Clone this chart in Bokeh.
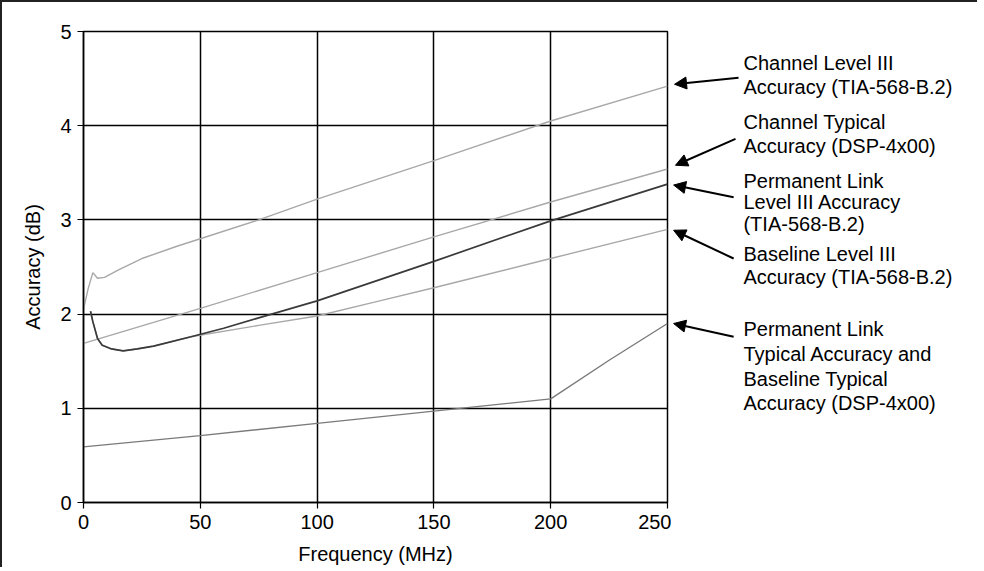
from bokeh.plotting import figure
from bokeh.layouts import row
from bokeh.models import Arrow, NormalHead, Label, FixedTicker, Range1d
from bokeh.embed import file_html
from bokeh.resources import INLINE

# ---- data ----
cl3_x = [0, 2, 4, 6, 9, 15, 25, 40, 50, 75, 100, 150, 200, 250]
cl3_y = [2.05, 2.27, 2.44, 2.38, 2.39, 2.47, 2.59, 2.72, 2.80, 3.00, 3.22, 3.63, 4.05, 4.42]

ct_x = [0, 50, 100, 150, 200, 250]
ct_y = [1.69, 2.06, 2.44, 2.82, 3.19, 3.54]

pl3_x = [3, 4, 6, 8, 12, 17, 23, 30, 46, 60, 75, 100, 150, 200, 250]
pl3_y = [2.03, 1.92, 1.74, 1.67, 1.63, 1.61, 1.63, 1.66, 1.76, 1.85, 1.96, 2.14, 2.56, 2.99, 3.38]

bl3_x = [3, 4, 6, 8, 12, 17, 23, 30, 46, 75, 100, 125, 150, 200, 250]
bl3_y = [2.03, 1.92, 1.74, 1.67, 1.63, 1.61, 1.63, 1.66, 1.76, 1.88, 1.98, 2.13, 2.28, 2.59, 2.90]

pt_x = [0, 50, 100, 150, 200, 225, 250]
pt_y = [0.59, 0.71, 0.84, 0.97, 1.10, 1.51, 1.90]

x_ticks = [0, 50, 100, 150, 200, 250]
y_ticks = [0, 1, 2, 3, 4, 5]

label_lines = [
    "Channel Level III", "Accuracy (TIA-568-B.2)",
    "Channel Typical", "Accuracy (DSP-4x00)",
    "Permanent Link", "Level III Accuracy", "(TIA-568-B.2)",
    "Baseline Level III", "Accuracy (TIA-568-B.2)",
    "Permanent Link", "Typical Accuracy and", "Baseline Typical", "Accuracy (DSP-4x00)",
]

# ---- annotation layout ----
label_x = 282.5
label_y = [4.67, 4.41, 4.04, 3.78, 3.41, 3.19, 2.96, 2.64, 2.39, 1.84, 1.58, 1.31, 1.06]
arrows = [
    (280.4, 4.51, 253.0, 4.44),
    (279.1, 3.86, 253.4, 3.58),
    (278.3, 3.24, 252.6, 3.37),
    (278.3, 2.59, 252.6, 2.89),
    (278.3, 1.76, 252.6, 1.90),
]

FONT = "Liberation Sans"
FS = "20px"
TOP, BOTTOM, H = 29, 64, 565

p = figure(width=669, height=H, output_backend="svg", toolbar_location=None,
           x_range=Range1d(0, 250), y_range=Range1d(0, 5),
           min_border_left=81, min_border_right=4, min_border_top=TOP, min_border_bottom=BOTTOM,
           x_axis_label="Frequency (MHz)", y_axis_label="Accuracy (dB)")

p.outline_line_color = "black"
p.outline_line_width = 1.5
for ax in (p.xaxis[0], p.yaxis[0]):
    ax.axis_line_color = "black"
    ax.axis_line_width = 1.5
    ax.major_tick_line_color = "black"
    ax.major_tick_line_width = 1.2
    ax.major_tick_in = 0
    ax.major_tick_out = 6
    ax.minor_tick_line_color = None
    ax.major_label_text_font = FONT
    ax.major_label_text_font_size = FS
    ax.major_label_text_color = "black"
    ax.axis_label_text_font = FONT
    ax.axis_label_text_font_size = FS
    ax.axis_label_text_font_style = "normal"
    ax.axis_label_text_color = "black"
p.xaxis.ticker = FixedTicker(ticks=x_ticks)
p.yaxis.ticker = FixedTicker(ticks=y_ticks)
p.xaxis.major_label_standoff = 6
p.yaxis.major_label_standoff = 6
p.xaxis.axis_label_standoff = 11
p.yaxis.axis_label_standoff = 13

p.xgrid.ticker = FixedTicker(ticks=x_ticks)
p.ygrid.ticker = FixedTicker(ticks=y_ticks)
p.grid.grid_line_color = "black"
p.grid.grid_line_width = 1.5
p.grid.grid_line_alpha = 1.0

p.line(cl3_x, cl3_y, line_color="#a8a8a8", line_width=1.4)
p.line(ct_x, ct_y, line_color="#a8a8a8", line_width=1.4)
p.line(bl3_x, bl3_y, line_color="#a8a8a8", line_width=1.4)
p.line(pt_x, pt_y, line_color="#7a7a7a", line_width=1.4)
p.line(pl3_x, pl3_y, line_color="#3a3a3a", line_width=1.7)

# right-hand annotation panel sharing the y scale
q = figure(width=306, height=H, output_backend="svg", toolbar_location=None,
           x_range=Range1d(251.7, 378.4), y_range=p.y_range,
           x_axis_type=None, y_axis_type=None,
           min_border_left=0, min_border_right=10, min_border_top=TOP, min_border_bottom=BOTTOM)
q.outline_line_color = None
q.grid.visible = False

for txt, ly in zip(label_lines, label_y):
    q.add_layout(Label(x=label_x, y=ly, text=txt, text_font=FONT, text_font_size=FS,
                       text_baseline="middle", text_align="left", text_color="black"))

for xs, ys, xe, ye in arrows:
    q.add_layout(Arrow(end=NormalHead(size=12, fill_color="black", line_color="black"),
                       x_start=xs, y_start=ys, x_end=xe, y_end=ye,
                       line_color="black", line_width=2))

layout = row(p, q, spacing=0)
layout.styles = {"border-left": "2px solid #222", "border-top": "2px solid #222"}

open("out.html", "w").write(file_html(layout, INLINE))
